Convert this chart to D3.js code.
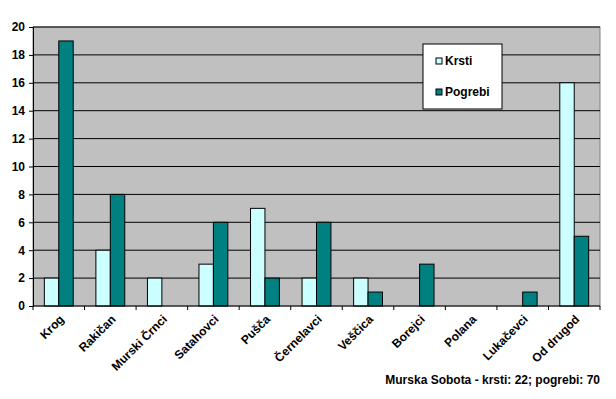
<!DOCTYPE html>
<html>
<head>
<meta charset="utf-8">
<script src="https://cdn.jsdelivr.net/npm/d3@7"></script>
<style>
  body { margin: 0; background: #fff; }
  text { font-family: "Liberation Sans", Arial, sans-serif; font-weight: bold; }
</style>
</head>
<body>
<script>
// Data
const categories = ["Krog", "Rakičan", "Murski Črnci", "Satahovci", "Pušča", "Černelavci",
  "Veščica", "Borejci", "Polana", "Lukačevci", "Od drugod"];
const krsti = [2, 4, 2, 3, 7, 2, 2, 0, 0, 0, 16];
const pogrebi = [19, 8, 0, 6, 2, 6, 1, 3, 0, 1, 5];
const seriesNames = ["Krsti", "Pogrebi"];
const seriesColors = ["#CCFFFF", "#008080"];
const yTicks = [0, 2, 4, 6, 8, 10, 12, 14, 16, 18, 20];
const footer = "Murska Sobota - krsti: 22; pogrebi: 70";

const width = 616, height = 399;
const margins = { top: 27, left: 33, right: 16, bottom: 93 };
const plotWidth = width - margins.left - margins.right;
const plotHeight = height - margins.top - margins.bottom;

const svg = d3.select("body").append("svg")
  .attr("width", width)
  .attr("height", height);

const g = svg.append("g")
  .attr("transform", `translate(${margins.left},${margins.top})`);

const xScale = d3.scaleBand().domain(categories).range([0, plotWidth])
  .paddingInner(0).paddingOuter(0);
const xInner = d3.scaleBand().domain(seriesNames)
  .range([xScale.bandwidth() * 0.22, xScale.bandwidth() * 0.78]);
const yScale = d3.scaleLinear().domain([0, 20]).range([plotHeight, 0]);

// plot background
g.append("rect")
  .attr("width", plotWidth).attr("height", plotHeight)
  .attr("fill", "#C0C0C0")
  .attr("stroke", "#808080");

// gridlines
g.selectAll("line.grid").data(yTicks.slice(1)).enter().append("line")
  .attr("x1", 0).attr("x2", plotWidth)
  .attr("y1", d => yScale(d)).attr("y2", d => yScale(d))
  .attr("stroke", "#000").attr("stroke-width", 1);

// bars
const rows = categories.map((c, i) => ({ cat: c, vals: [krsti[i], pogrebi[i]] }));
const groups = g.selectAll("g.cat").data(rows).enter().append("g")
  .attr("transform", d => `translate(${xScale(d.cat)},0)`);
groups.selectAll("rect").data(d => d.vals.map((v, j) => ({ s: seriesNames[j], v, j })))
  .enter().filter(d => d.v > 0).append("rect")
  .attr("x", d => xInner(d.s))
  .attr("width", xInner.bandwidth())
  .attr("y", d => yScale(d.v))
  .attr("height", d => plotHeight - yScale(d.v))
  .attr("fill", d => seriesColors[d.j])
  .attr("stroke", "#000").attr("stroke-width", 1);

// axes
const yAxis = g.append("g")
  .call(d3.axisLeft(yScale).tickValues(yTicks).tickSize(4).tickPadding(4));
yAxis.select(".domain").attr("stroke", "#000");
yAxis.selectAll("text").style("font-size", "12px").attr("fill", "#000");

const tickPos = d3.range(categories.length + 1).map(i => i * xScale.step());
const xAxisG = g.append("g").attr("transform", `translate(0,${plotHeight})`);
xAxisG.append("line").attr("x1", 0).attr("x2", plotWidth).attr("stroke", "#000");
xAxisG.selectAll("line.tick").data(tickPos).enter().append("line")
  .attr("x1", d => d).attr("x2", d => d).attr("y1", 0).attr("y2", 4)
  .attr("stroke", "#000");
xAxisG.selectAll("text").data(categories).enter().append("text")
  .attr("transform", d => `translate(${xScale(d) + xScale.bandwidth() / 2 + 6},${14}) rotate(-45)`)
  .attr("text-anchor", "end")
  .style("font-size", "12px")
  .text(d => d);

// legend
const legend = svg.append("g").attr("transform", "translate(423,44)");
legend.append("rect").attr("width", 79).attr("height", 65)
  .attr("fill", "#fff").attr("stroke", "#000");
seriesNames.forEach((s, i) => {
  legend.append("rect")
    .attr("x", 13).attr("y", 14 + i * 31).attr("width", 6).attr("height", 6)
    .attr("fill", seriesColors[i]).attr("stroke", "#000");
  legend.append("text")
    .attr("x", 22).attr("y", 21 + i * 31)
    .style("font-size", "12px")
    .text(s);
});

// footer
svg.append("text")
  .attr("x", 600).attr("y", 384)
  .attr("text-anchor", "end")
  .style("font-size", "12px")
  .text(footer);
</script>
</body>
</html>
